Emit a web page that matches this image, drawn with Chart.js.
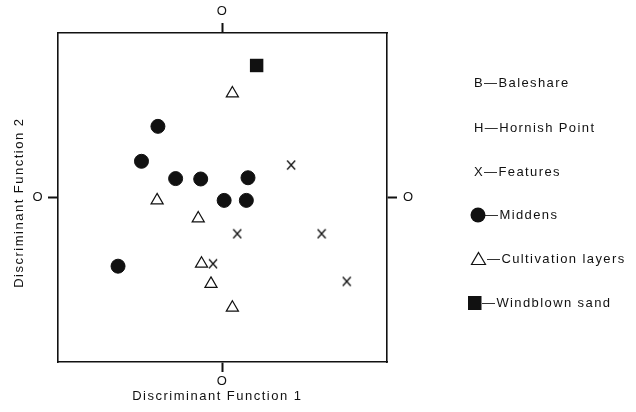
<!DOCTYPE html>
<html>
<head>
<meta charset="utf-8">
<script src="https://cdn.jsdelivr.net/npm/chart.js@4.4.1/dist/chart.umd.min.js"></script>
<style>
  html, body { margin: 0; padding: 0; background: #fff; }
</style>
</head>
<body>
<canvas id="dfChart" width="636" height="412"></canvas>
<script>
// discriminant scores (axis units, origin at the "O" ticks)
const middensX = [-1.57, -1.97, -1.14, -0.53, 0.62, 0.04, 0.58, -2.54];
const middensY = [1.73, 0.88, 0.46, 0.45, 0.48, -0.07, -0.07, -1.67];
const cultivationX = [0.24, -1.59, -0.59, -0.51, -0.28, 0.24];
const cultivationY = [2.53, -0.07, -0.51, -1.61, -2.10, -2.68];
const featuresX = [1.67, 0.36, 2.41, -0.23, 3.02];
const featuresY = [0.79, -0.88, -0.88, -1.61, -2.04];
const windblownX = [0.83];
const windblownY = [3.21];

const tickValues = [0];
const tickLabels = ['O'];
// trailing spaces nudge the centred titles the way the original sits
const axisTitles = ['Discriminant Function 1  ', 'Discriminant Function 2  '];
const legendLabels = ['B\u2014Baleshare', 'H\u2014Hornish Point', 'X\u2014Features',
  '\u2014Middens', '\u2014Cultivation layers', '\u2014Windblown sand'];

const INK = '#111';
const FONT = { family: '"Liberation Sans", Arial, sans-serif', size: 13 };

const toPoints = (xs, ys) => xs.map((x, i) => ({ x, y: ys[i] }));

// typed-looking X, a bit taller than wide
function makeXMark() {
  const c = document.createElement('canvas');
  c.width = 10;
  c.height = 12;
  const g = c.getContext('2d');
  g.strokeStyle = INK;
  g.lineWidth = 1.3;
  g.beginPath();
  g.moveTo(1, 1.5); g.lineTo(9, 10.5);
  g.moveTo(9, 1.5); g.lineTo(1, 10.5);
  g.stroke();
  return c;
}
const xMark = makeXMark();

// only keep the zero tick on every side
function zeroTicks(scale) {
  scale.ticks = tickValues.map(v => ({ value: v }));
}

function sideAxis(position, size, title) {
  const horizontal = position === 'top' || position === 'bottom';
  return {
    type: 'linear',
    position,
    min: -4,
    max: 4,
    afterBuildTicks: zeroTicks,
    afterFit: s => { if (horizontal) s.height = size; else s.width = size; },
    ticks: {
      callback: (v) => tickLabels[tickValues.indexOf(v)] ?? '',
      color: INK,
      font: FONT,
      padding: position === 'right' ? 6 : (position === 'bottom' ? 2 : 4),
      maxRotation: 0
    },
    grid: { drawOnChartArea: false, drawTicks: true, tickLength: 10, tickWidth: 2, color: INK },
    border: { display: true, color: INK, width: 1.6 },
    title: title ? {
      display: true, text: title, color: INK, font: FONT,
      padding: horizontal ? { top: 0, bottom: 8 } : { top: 12, bottom: 0 }
    } : { display: false }
  };
}

// wider letter spacing like the typeset original; set after each canvas resize
const spacingPlugin = {
  id: 'spacing',
  beforeDraw(chart) { chart.ctx.letterSpacing = '1.5px'; }
};

// hand drawn key at the right, same markers as the plot
const keyPlugin = {
  id: 'key',
  afterDraw(chart) {
    const ctx = chart.ctx;
    const rowY = [83, 128, 172, 215, 259, 303];
    ctx.save();
    ctx.letterSpacing = '1.4px';
    ctx.font = '13px "Liberation Sans", Arial, sans-serif';
    ctx.fillStyle = INK;
    ctx.strokeStyle = INK;
    ctx.textBaseline = 'middle';
    legendLabels.forEach((label, i) => {
      const y = rowY[i];
      if (i < 3) {
        ctx.fillText(label, 474, y);
        return;
      }
      if (i === 3) {
        ctx.beginPath();
        ctx.arc(478, y, 7.5, 0, Math.PI * 2);
        ctx.fill();
        ctx.fillText(label, 485, y);
      } else if (i === 4) {
        ctx.lineWidth = 1.2;
        ctx.beginPath();
        ctx.moveTo(478.5, y - 6.5);
        ctx.lineTo(485.5, y + 5.5);
        ctx.lineTo(471.5, y + 5.5);
        ctx.closePath();
        ctx.stroke();
        ctx.fillText(label, 487, y);
      } else {
        ctx.fillRect(468, y - 7, 13.5, 14);
        ctx.fillText(label, 482, y);
      }
    });
    ctx.restore();
  }
};

new Chart(document.getElementById('dfChart'), {
  type: 'scatter',
  data: {
    datasets: [
      {
        label: 'Middens',
        data: toPoints(middensX, middensY),
        pointStyle: 'circle', pointRadius: 7, borderWidth: 1,
        backgroundColor: INK, borderColor: INK
      },
      {
        label: 'Cultivation layers',
        data: toPoints(cultivationX, cultivationY),
        pointStyle: 'triangle', pointRadius: 7, borderWidth: 1.2,
        backgroundColor: '#fff', borderColor: INK
      },
      {
        label: 'Features',
        data: toPoints(featuresX, featuresY),
        pointStyle: xMark, pointRadius: 6,
        backgroundColor: INK, borderColor: INK
      },
      {
        label: 'Windblown sand',
        data: toPoints(windblownX, windblownY),
        pointStyle: 'rect', pointRadius: 9.5, borderWidth: 0,
        backgroundColor: INK, borderColor: INK
      }
    ]
  },
  options: {
    responsive: false,
    animation: false,
    layout: { padding: 0 },
    plugins: { legend: { display: false }, tooltip: { enabled: false } },
    scales: {
      x: sideAxis('bottom', 50, axisTitles[0]),
      x2: sideAxis('top', 33),
      y: sideAxis('left', 58, axisTitles[1]),
      y2: sideAxis('right', 249)
    }
  },
  plugins: [spacingPlugin, keyPlugin]
});
</script>
</body>
</html>
